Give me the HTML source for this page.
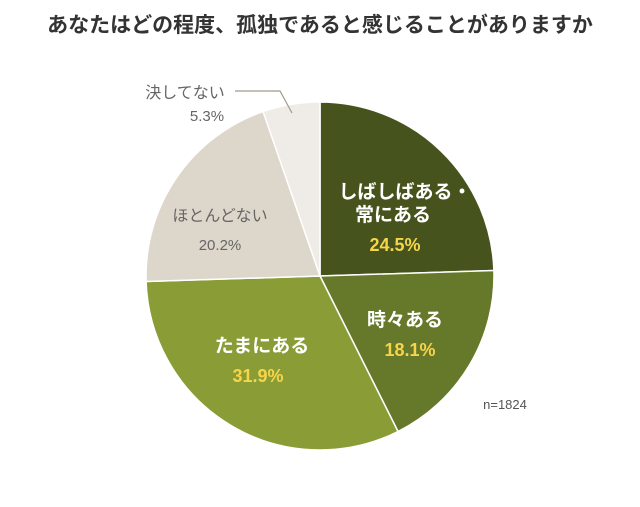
<!DOCTYPE html>
<html><head><meta charset="utf-8"><style>
body{margin:0;background:#fff;width:640px;height:502px;overflow:hidden}
svg text{font-family:"Liberation Sans","Noto Sans CJK JP",sans-serif}
</style></head><body>
<svg width="640" height="502" viewBox="0 0 640 502">
<text x="320" y="32" text-anchor="middle" font-size="21" font-weight="bold" fill="#333">あなたはどの程度、孤独であると感じることがありますか</text>
<g stroke="#fff" stroke-width="1.5">
<path d="M320,276 L320,102 A174,174 0 0 1 493.9,270.5 Z" fill="#46531c"/>
<path d="M320,276 L493.9,270.5 A174,174 0 0 1 398,431.5 Z" fill="#66782a"/>
<path d="M320,276 L398,431.5 A174,174 0 0 1 146.1,281.5 Z" fill="#8a9c35"/>
<path d="M320,276 L146.1,281.5 A174,174 0 0 1 263.1,111.6 Z" fill="#ddd6ca"/>
<path d="M320,276 L263.1,111.6 A174,174 0 0 1 320,102 Z" fill="#efebe6"/>
</g>
<polyline points="235,91 280,91 292,113" fill="none" stroke="#a09a8c" stroke-width="1.2"/>
<text x="185" y="98" text-anchor="middle" font-size="16" fill="#666">決してない</text>
<text x="207" y="121" text-anchor="middle" font-size="15" fill="#666">5.3%</text>
<text x="220" y="221" text-anchor="middle" font-size="16" fill="#666">ほとんどない</text>
<text x="220" y="250" text-anchor="middle" font-size="15" fill="#666">20.2%</text>
<text x="405" y="198" text-anchor="middle" font-size="19" font-weight="bold" fill="#fff">しばしばある・</text>
<text x="393" y="221" text-anchor="middle" font-size="19" font-weight="bold" fill="#fff">常にある</text>
<text x="395" y="251" text-anchor="middle" font-size="18" font-weight="bold" fill="#f5d54a">24.5%</text>
<text x="405" y="326" text-anchor="middle" font-size="19" font-weight="bold" fill="#fff">時々ある</text>
<text x="410" y="356" text-anchor="middle" font-size="18" font-weight="bold" fill="#f5d54a">18.1%</text>
<text x="262" y="352" text-anchor="middle" font-size="19" font-weight="bold" fill="#fff">たまにある</text>
<text x="258" y="382" text-anchor="middle" font-size="18" font-weight="bold" fill="#f5d54a">31.9%</text>
<text x="505" y="409" text-anchor="middle" font-size="13" fill="#555">n=1824</text>
</svg>
</body></html>
